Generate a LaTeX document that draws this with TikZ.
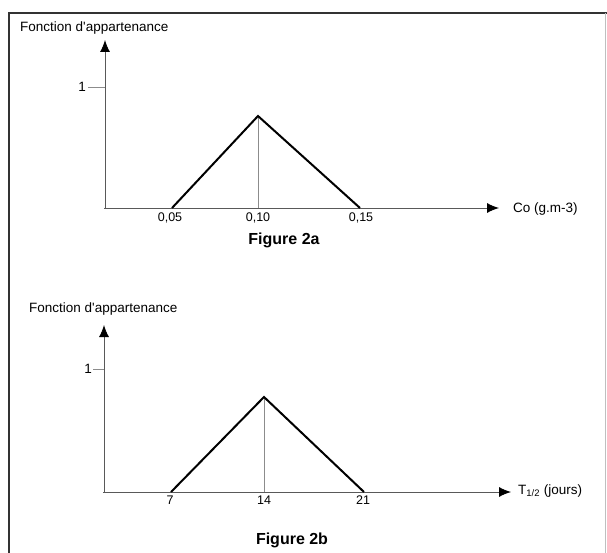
\documentclass[tikz,border=0pt]{standalone}
\usepackage{fontspec}
\setmainfont{Liberation Sans}
\usepackage{xcolor}
\usepackage{tikz}
\usetikzlibrary{positioning,arrows.meta}

\begin{document}
\begin{tikzpicture}[
      x=1pt, y=-1pt,
      axe/.style={
        draw=black!65,
        line width=0.9pt,
        -{Latex[length=12pt,width=10pt,black]}
      },
      fonction/.style={
        draw=black,
        line width=2pt,
        line join=miter
      },
      repere/.style={
        draw=black!45,
        line width=0.8pt
      },
      lbl/.style={
        inner sep=0pt,
        font=\fontsize{13.5}{15}\selectfont
      },
      graduation/.style={
        inner sep=0pt,
        font=\fontsize{12.5}{14}\selectfont
      },
      titre/.style={
        inner sep=0pt,
        font=\fontsize{16}{18}\selectfont\bfseries
      }
      ]
        \useasboundingbox (0,0) rectangle (607,553);

        % cadre
        \draw[line width=1.6pt, black!80] (9,553) -- (9,13) -- (607,13);
        \draw[line width=0.6pt, black!25] (605,13) -- (605,553);

        % Figure 2a
        \coordinate (oa) at (105,208);
        \coordinate (ya) at (105,40);
        \coordinate (xa) at (499,208);
        \coordinate (ga) at (172,208);
        \coordinate (sa) at (258,116);
        \coordinate (pa) at (258,208);
        \coordinate (da) at (360,208);
        \coordinate (ua) at (88,87);
        \coordinate (va) at (105,87);

        \draw[axe] (oa) -- (ya);
        \draw[axe] (104,208) -- (xa);
        \draw[repere] (ua) -- (va);
        \draw[repere] (sa) -- (pa);
        \draw[fonction] (ga) -- (sa) -- (da);

        \node[lbl, anchor=west] (fa) at (20,28) {Fonction d\textquotesingle appartenance};
        \node[lbl, anchor=east] (una) at (86,87) {1};
        \node[graduation] (t1a) at (170,218) {0,05};
        \node[graduation] (t2a) at (258,218) {0,10};
        \node[graduation] (t3a) at (361,218) {0,15};
        \node[lbl, anchor=west] (co) at (513,209) {Co (g.m-3)};
        \node[titre] (fig2a) at (284,240) {Figure 2a};

        % Figure 2b
        \coordinate (ob) at (104,492);
        \coordinate (yb) at (104,325);
        \coordinate (xb) at (511,492);
        \coordinate (gb) at (171,492);
        \coordinate (sb) at (264,397);
        \coordinate (pb) at (264,492);
        \coordinate (db) at (364,492);
        \coordinate (ub) at (93,369);
        \coordinate (vb) at (104,369);

        \draw[axe] (ob) -- (yb);
        \draw[axe] (103,492) -- (xb);
        \draw[repere] (ub) -- (vb);
        \draw[repere] (sb) -- (pb);
        \draw[fonction] (gb) -- (sb) -- (db);

        \node[lbl, anchor=west] (fb) at (29,309) {Fonction d\textquotesingle appartenance};
        \node[lbl, anchor=east] (unb) at (92,369) {1};
        \node[graduation] (t1b) at (170,500) {7};
        \node[graduation] (t2b) at (264,500) {14};
        \node[graduation] (t3b) at (363,500) {21};
        \node[lbl, anchor=west] (demi) at (518,491) {T\textsubscript{1/2} (jours)};
        \node[titre] (fig2b) at (292,540) {Figure 2b};
    \end{tikzpicture}
\end{document}
